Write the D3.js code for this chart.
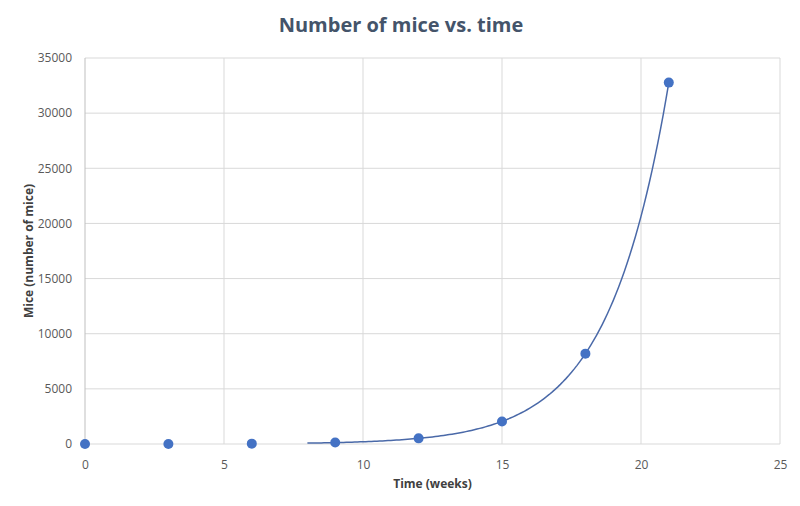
<!DOCTYPE html>
<html><head><meta charset="utf-8">
<script src="https://cdn.jsdelivr.net/npm/d3@7"></script>
<style>body{margin:0;background:#fff}svg{display:block}</style>
</head><body>
<svg id="c" width="800" height="506"></svg>
<script>
const title = "Number of mice vs. time";
const xLabel = "Time (weeks)";
const yLabel = "Mice (number of mice)";
const weeks = [0, 3, 6, 9, 12, 15, 18, 21];
const mice = [2, 8, 32, 128, 512, 2048, 8192, 32768];
const xTicks = [0, 5, 10, 15, 20, 25];
const yTicks = [0, 5000, 10000, 15000, 20000, 25000, 30000, 35000];
const trendRange = [8, 21];

const svg = d3.select("#c");
const m = {l: 85, r: 20, t: 58, b: 62};
const W = 800, H = 506;
const x = d3.scaleLinear().domain([0, 25]).range([m.l, W - m.r]);
const y = d3.scaleLinear().domain([0, 35000]).range([H - m.b, m.t]);
const font = "'Open Sans', 'Liberation Sans', sans-serif";

// gridlines
svg.append("g").selectAll("line").data(yTicks).join("line")
  .attr("x1", x(0)).attr("x2", x(25)).attr("y1", d => y(d)).attr("y2", d => y(d))
  .attr("stroke", "#d9d9d9").attr("stroke-width", 1);
svg.append("g").selectAll("line").data(xTicks).join("line")
  .attr("y1", y(0)).attr("y2", y(35000)).attr("x1", d => x(d)).attr("x2", d => x(d))
  .attr("stroke", d => d === 0 ? "#bfbfbf" : "#d9d9d9").attr("stroke-width", 1);

// axes labels via d3 axes
const xa = svg.append("g").attr("transform", `translate(0,${y(0)})`)
  .call(d3.axisBottom(x).tickValues(xTicks).tickSize(0).tickPadding(16));
const ya = svg.append("g").attr("transform", `translate(${x(0)},0)`)
  .call(d3.axisLeft(y).tickValues(yTicks).tickSize(0).tickPadding(13).tickFormat(d3.format("d")));
[xa, ya].forEach(g => {
  g.select(".domain").remove();
  g.selectAll("text").attr("font-family", font).attr("font-size", 12).attr("fill", "#595959");
});

// exponential trendline fitted from the data (least squares on ln y)
const lx = weeks, ly = mice.map(Math.log);
const mx = d3.mean(lx), my = d3.mean(ly);
const b = d3.sum(lx.map((v, i) => (v - mx) * (ly[i] - my))) / d3.sum(lx.map(v => (v - mx) ** 2));
const a = Math.exp(my - b * mx);
const tx = d3.range(trendRange[0], trendRange[1] + 0.001, 0.1);
svg.append("path")
  .attr("d", d3.line().x(d => x(d)).y(d => y(a * Math.exp(b * d)))(tx))
  .attr("fill", "none").attr("stroke", "#4a69a8").attr("stroke-width", 1.5);

// points
svg.append("g").selectAll("circle").data(weeks).join("circle")
  .attr("cx", d => x(d)).attr("cy", (d, i) => y(mice[i])).attr("r", 5)
  .attr("fill", "#4472c4");

// titles
svg.append("text").attr("x", 401).attr("y", 32).attr("text-anchor", "middle")
  .attr("font-family", font).attr("font-weight", "bold").attr("font-size", 20)
  .attr("fill", "#44546a").text(title);
svg.append("text").attr("x", (x(0) + x(25)) / 2).attr("y", 488).attr("text-anchor", "middle")
  .attr("font-family", font).attr("font-weight", "bold").attr("font-size", 12)
  .attr("fill", "#404040").text(xLabel);
svg.append("text").attr("transform", `translate(33,${(y(0) + y(35000)) / 2}) rotate(-90)`)
  .attr("text-anchor", "middle")
  .attr("font-family", font).attr("font-weight", "bold").attr("font-size", 12)
  .attr("fill", "#404040").text(yLabel);
</script>
</body></html>
